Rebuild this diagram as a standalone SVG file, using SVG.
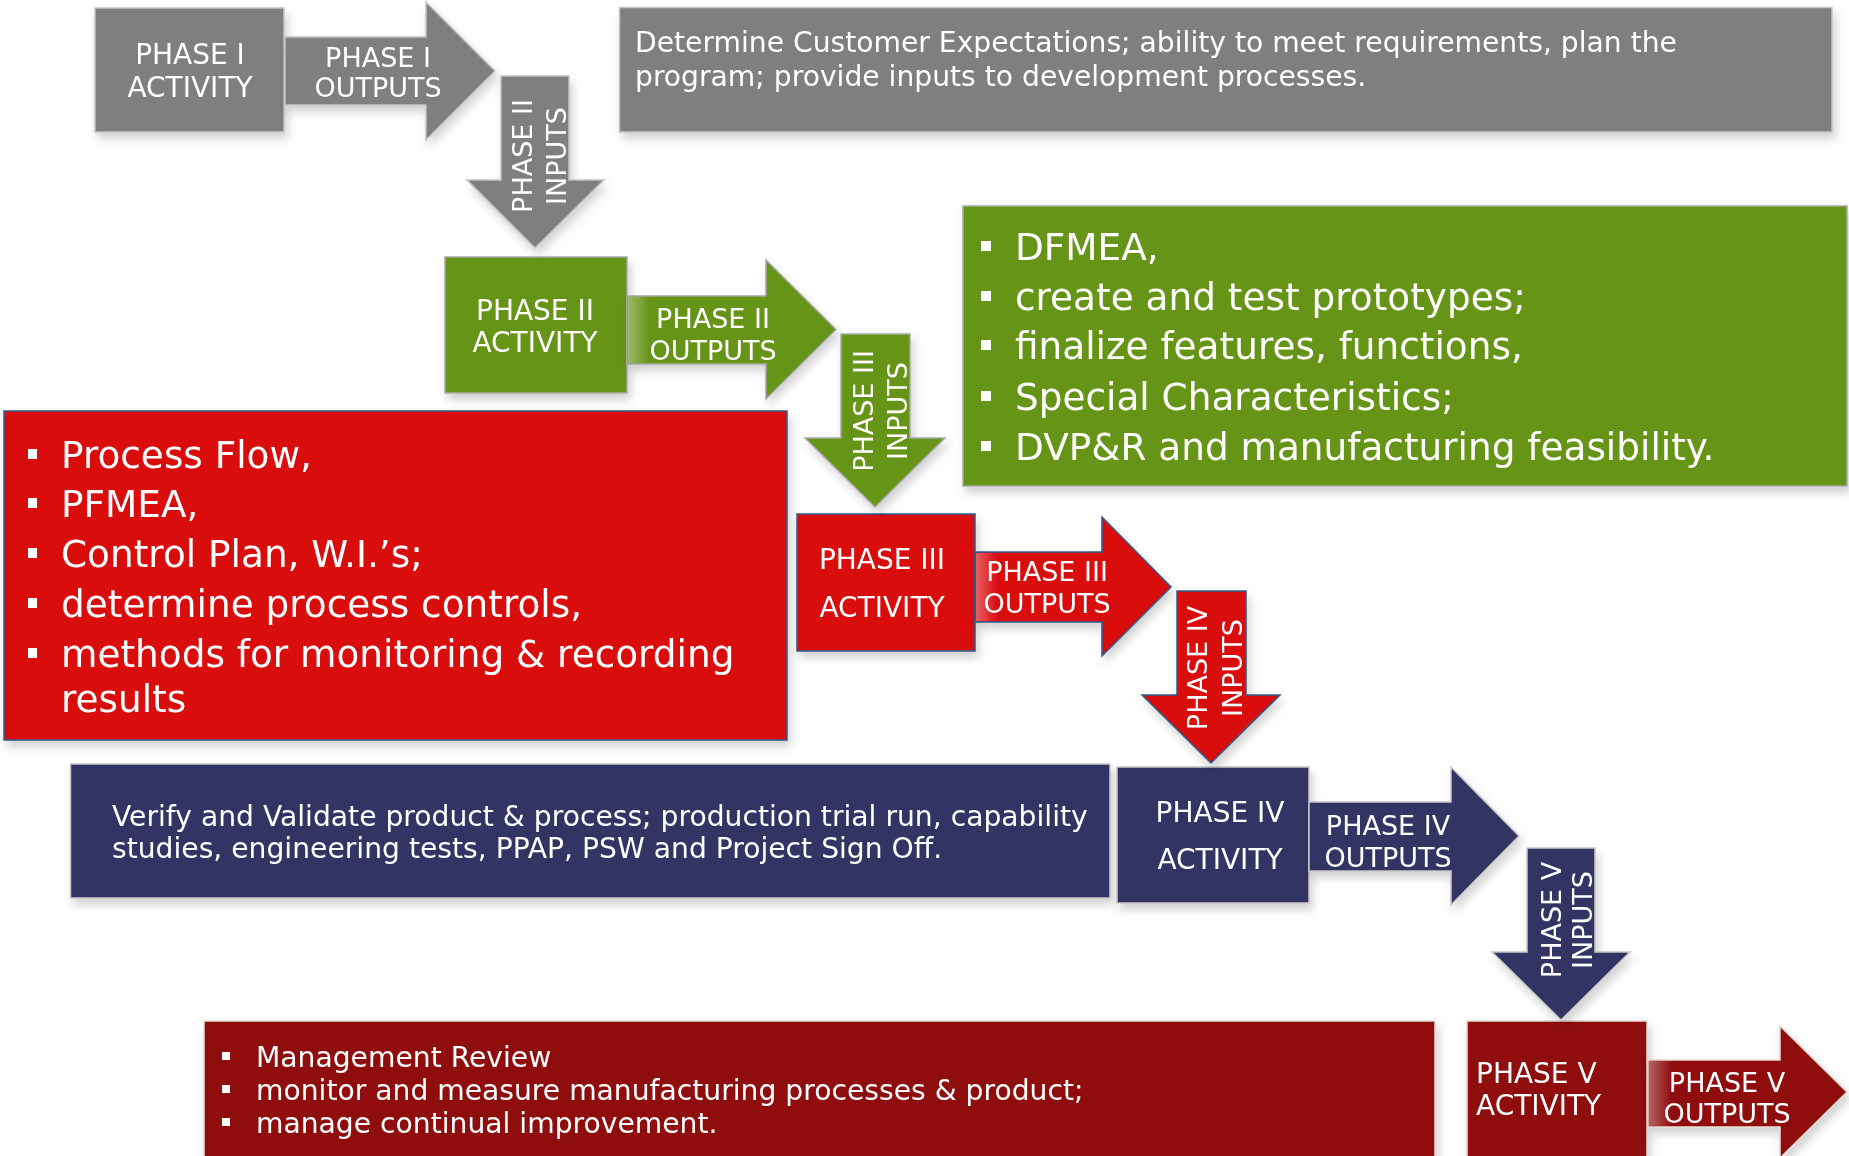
<svg xmlns="http://www.w3.org/2000/svg" width="1849" height="1156" viewBox="0 0 1849 1156">
  <defs>
    <filter id="shadow" x="-10%" y="-10%" width="120%" height="130%">
      <feDropShadow dx="3" dy="6" stdDeviation="5" flood-color="#000" flood-opacity="0.18"/>
    </filter>
    <linearGradient id="shaftLight" x1="0" y1="0" x2="1" y2="0">
      <stop offset="0" stop-color="#fff" stop-opacity="0.35"/>
      <stop offset="1" stop-color="#fff" stop-opacity="0"/>
    </linearGradient>
    <style>
      text { font-family: "DejaVu Sans", Verdana, sans-serif; fill: #fff; }
      .lbl { font-size: 28px; text-anchor: middle; }
      .lbl-s { font-size: 27px; text-anchor: middle; }
      .desc { font-size: 28.2px; }
      .list { font-size: 37.4px; }
      .gray { fill: #7f7f7f; stroke: #c4c4c4; stroke-width: 1.5; }
      .green { fill: #669416; stroke: #a8a8a8; stroke-width: 1.5; }
      .red { fill: #da0a0d; stroke: #2e5c8c; stroke-width: 1.5; }
      .navy { fill: #303564; stroke: #c8c8c8; stroke-width: 1.5; }
      .dred { fill: #8f0f10; stroke: #e6ddd2; stroke-width: 1.5; }
      .bullet { fill: #fff; stroke: none; }
    </style>
  </defs>

  <rect width="1849" height="1156" fill="#fff"/>

  <!-- Phase I -->
  <g id="phase1-activity" filter="url(#shadow)">
    <rect class="gray" x="95" y="8" width="189" height="124"/>
    <text class="lbl" x="190" y="64">PHASE I</text>
    <text class="lbl" x="190" y="97">ACTIVITY</text>
  </g>
  <g id="phase1-description" filter="url(#shadow)">
    <rect class="gray" x="619.5" y="7.5" width="1212.5" height="124.5"/>
    <text class="desc" x="635" y="52">Determine Customer Expectations; ability to meet requirements, plan the</text>
    <text class="desc" x="635" y="86">program; provide inputs to development processes.</text>
  </g>

  <!-- Phase II -->
  <g id="phase2-activity" filter="url(#shadow)">
    <rect class="green" x="445" y="257" width="182" height="136"/>
    <text class="lbl" x="535" y="320">PHASE II</text>
    <text class="lbl" x="535" y="352">ACTIVITY</text>
  </g>
  <g id="phase2-description" filter="url(#shadow)">
    <rect class="green" x="963" y="206" width="884" height="280"/>
    <rect class="bullet" x="981" y="241" width="10" height="10"/>
    <rect class="bullet" x="981" y="291" width="10" height="10"/>
    <rect class="bullet" x="981" y="340" width="10" height="10"/>
    <rect class="bullet" x="981" y="391" width="10" height="10"/>
    <rect class="bullet" x="981" y="441" width="10" height="10"/>
    <text class="list" x="1015" y="260">DFMEA,</text>
    <text class="list" x="1015" y="310">create and test prototypes;</text>
    <text class="list" x="1015" y="359">finalize features, functions,</text>
    <text class="list" x="1015" y="410">Special Characteristics;</text>
    <text class="list" x="1015" y="460">DVP&amp;R and manufacturing feasibility.</text>
  </g>

  <!-- Phase III -->
  <g id="phase3-description" filter="url(#shadow)">
    <rect class="red" x="4" y="411" width="783" height="329"/>
    <rect class="bullet" x="28" y="449" width="9" height="10"/>
    <rect class="bullet" x="28" y="498" width="9" height="10"/>
    <rect class="bullet" x="28" y="548" width="9" height="10"/>
    <rect class="bullet" x="28" y="598" width="9" height="10"/>
    <rect class="bullet" x="28" y="648" width="9" height="10"/>
    <text class="list" x="61" y="468">Process Flow,</text>
    <text class="list" x="61" y="517">PFMEA,</text>
    <text class="list" x="61" y="567">Control Plan, W.I.’s;</text>
    <text class="list" x="61" y="617">determine process controls,</text>
    <text class="list" x="61" y="667">methods for monitoring &amp; recording</text>
    <text class="list" x="61" y="712">results</text>
  </g>
  <g id="phase3-activity" filter="url(#shadow)">
    <rect class="red" x="797" y="514" width="178" height="137"/>
    <text class="lbl" x="882" y="569">PHASE III</text>
    <text class="lbl" x="882" y="617">ACTIVITY</text>
  </g>

  <!-- Phase IV -->
  <g id="phase4-description" filter="url(#shadow)">
    <rect class="navy" x="70.5" y="764" width="1039.5" height="134"/>
    <text class="desc" x="112" y="826">Verify and Validate product &amp; process; production trial run, capability</text>
    <text class="desc" x="112" y="858">studies, engineering tests, PPAP, PSW and Project Sign Off.</text>
  </g>
  <g id="phase4-activity" filter="url(#shadow)">
    <rect class="navy" x="1117" y="767" width="192" height="136"/>
    <text class="lbl" x="1220" y="822">PHASE IV</text>
    <text class="lbl" x="1220" y="869">ACTIVITY</text>
  </g>

  <!-- Phase V -->
  <g id="phase5-description" filter="url(#shadow)">
    <rect class="dred" x="204" y="1021" width="1231" height="145"/>
    <rect class="bullet" x="222" y="1052" width="8" height="8"/>
    <rect class="bullet" x="222" y="1085" width="8" height="8"/>
    <rect class="bullet" x="222" y="1118" width="8" height="8"/>
    <text class="desc" x="256" y="1067">Management Review</text>
    <text class="desc" x="256" y="1100">monitor and measure manufacturing processes &amp; product;</text>
    <text class="desc" x="256" y="1133">manage continual improvement.</text>
  </g>
  <g id="phase5-activity" filter="url(#shadow)">
    <rect class="dred" x="1467" y="1021" width="180" height="145"/>
    <text class="desc" x="1476" y="1083" style="font-size:28px">PHASE V</text>
    <text class="desc" x="1476" y="1115" style="font-size:28px">ACTIVITY</text>
  </g>

  <!-- Block arrows linking the phases -->
  <g id="connectors">
    <g id="phase1-outputs" filter="url(#shadow)">
      <polygon class="gray" points="285,37 426,37 426,2 495,71 426,140 426,105 285,105"/>
      <text class="lbl-s" x="378" y="67">PHASE I</text>
      <text class="lbl-s" x="378" y="97">OUTPUTS</text>
    </g>
    <g id="phase2-inputs" filter="url(#shadow)">
      <polygon class="gray" points="501,76 569,76 569,180 604,180 535,248 467,180 501,180"/>
      <g transform="translate(535,156) rotate(-90)">
        <text class="lbl-s" x="0" y="-3">PHASE II</text>
        <text class="lbl-s" x="0" y="31">INPUTS</text>
      </g>
    </g>

    <g id="phase2-outputs" filter="url(#shadow)">
      <polygon class="green" points="627,296 766,296 766,260 836,329.5 766,399 766,364 627,364"/>
      <rect x="628" y="297" width="22" height="66" fill="url(#shaftLight)"/>
      <text class="lbl-s" x="713" y="328">PHASE II</text>
      <text class="lbl-s" x="713" y="360">OUTPUTS</text>
    </g>
    <g id="phase3-inputs" filter="url(#shadow)">
      <polygon class="green" points="841,334 910,334 910,438 945,438 875,507 805,438 841,438"/>
      <g transform="translate(875,411) rotate(-90)">
        <text class="lbl-s" x="0" y="-2.5">PHASE III</text>
        <text class="lbl-s" x="0" y="32">INPUTS</text>
      </g>
    </g>

    <g id="phase3-outputs" filter="url(#shadow)">
      <polygon class="red" points="975,552 1102,552 1102,517 1171,587 1102,656 1102,622 975,622"/>
      <rect x="976" y="553" width="22" height="68" fill="url(#shaftLight)"/>
      <text class="lbl-s" x="1047" y="581">PHASE III</text>
      <text class="lbl-s" x="1047" y="613">OUTPUTS</text>
    </g>
    <g id="phase4-inputs" filter="url(#shadow)">
      <polygon class="red" points="1177,591 1246,591 1246,695 1280,695 1211,763 1142,695 1177,695"/>
      <g transform="translate(1211,668) rotate(-90)">
        <text class="lbl-s" x="0" y="-4">PHASE IV</text>
        <text class="lbl-s" x="0" y="31">INPUTS</text>
      </g>
    </g>

    <g id="phase4-outputs" filter="url(#shadow)">
      <polygon class="navy" points="1309,802 1451,802 1451,767 1519,836 1451,905 1451,871 1309,871"/>
      <text class="lbl-s" x="1388" y="835">PHASE IV</text>
      <text class="lbl-s" x="1388" y="867">OUTPUTS</text>
    </g>
    <g id="phase5-inputs" filter="url(#shadow)">
      <polygon class="navy" points="1527,848 1595,848 1595,952 1630,952 1561,1020 1492,952 1527,952"/>
      <g transform="translate(1563,920) rotate(-90)">
        <text class="lbl-s" x="0" y="-2">PHASE V</text>
        <text class="lbl-s" x="0" y="29">INPUTS</text>
      </g>
    </g>

    <g id="phase5-outputs" filter="url(#shadow)">
      <polygon class="dred" points="1648,1060 1780,1060 1780,1026 1847,1092 1780,1158 1780,1127 1648,1127"/>
      <rect x="1649" y="1061" width="22" height="65" fill="url(#shaftLight)"/>
      <text class="lbl-s" x="1727" y="1092">PHASE V</text>
      <text class="lbl-s" x="1727" y="1123">OUTPUTS</text>
    </g>
  </g>
</svg>
